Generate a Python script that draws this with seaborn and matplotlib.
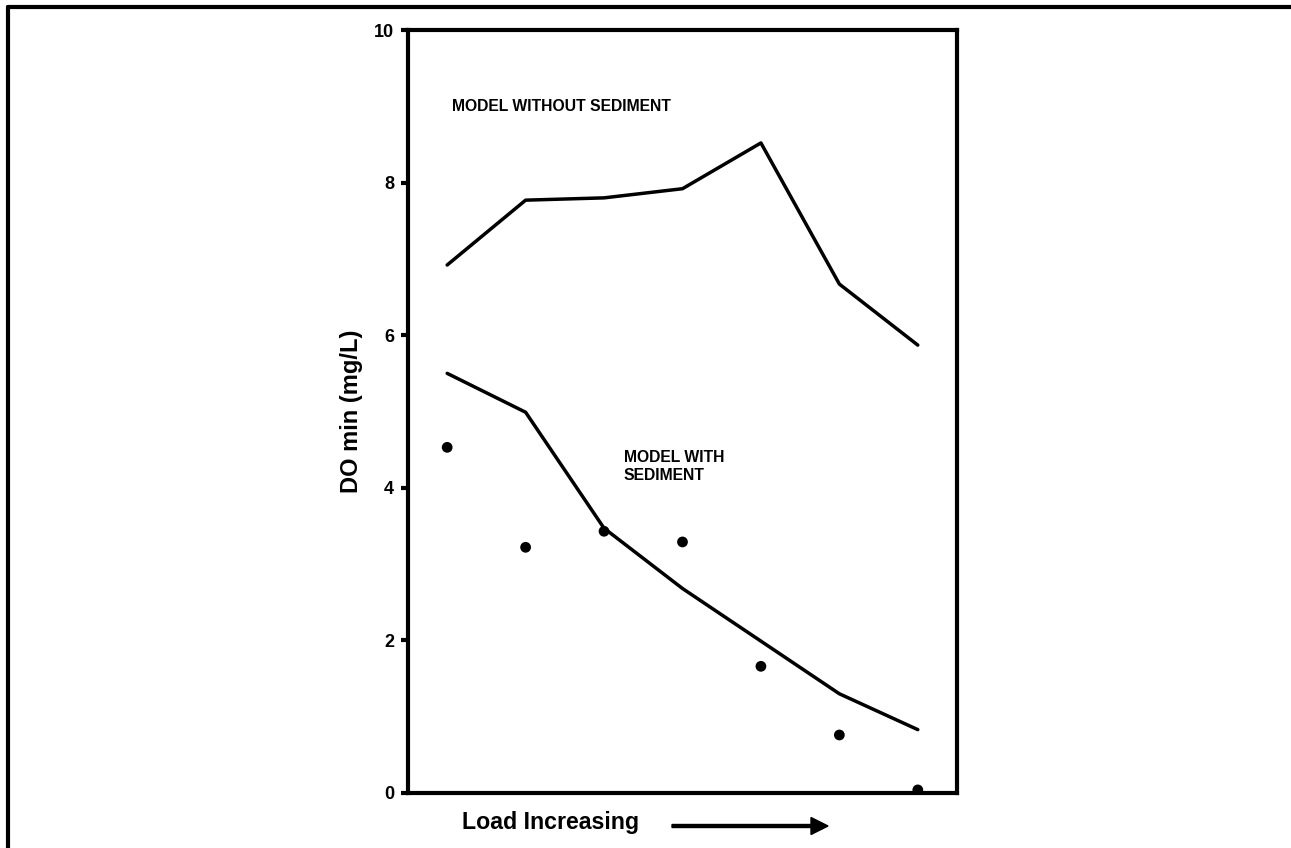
import numpy as np
import seaborn as sns
import matplotlib.pyplot as plt
from matplotlib.lines import Line2D

# load steps (no labels on x axis, only position)
load_step = [0, 1, 2, 3, 4, 5, 6]

# model without sediment
do_no_sed = [6.92, 7.77, 7.80, 7.92, 8.52, 6.67, 5.87]
# model with sediment
do_sed = [5.50, 4.99, 3.47, 2.68, 1.99, 1.30, 0.83]
# observed DO min
do_obs = [4.53, 3.22, 3.43, 3.29, 1.66, 0.76, 0.04]

y_ticks = [0, 2, 4, 6, 8, 10]

sns.set_theme(style="white")
plt.rcParams["font.family"] = ["Liberation Sans", "DejaVu Sans"]
plt.rcParams["font.weight"] = "bold"
plt.rcParams["text.color"] = "black"
plt.rcParams["axes.labelcolor"] = "black"
plt.rcParams["ytick.color"] = "black"

fig = plt.figure(figsize=(12.91, 8.48), dpi=100)
ax = fig.add_axes([0.316, 0.0649, 0.4253, 0.8997])

sns.lineplot(x=load_step, y=do_no_sed, ax=ax, color="black", linewidth=2.5)
sns.lineplot(x=load_step, y=do_sed, ax=ax, color="black", linewidth=2.5)
sns.scatterplot(x=load_step, y=do_obs, ax=ax, color="black", s=60, edgecolor="none", zorder=3)

ax.set_xlim(-0.5, 6.5)
ax.set_ylim(0, 10)
ax.set_xticks([])
ax.set_yticks(y_ticks)
ax.set_yticklabels([str(t) for t in y_ticks], fontsize=13, fontweight="bold", color="black")
ax.tick_params(axis="y", which="major", left=True, direction="out", length=5, width=3, pad=5, colors="black")

for s in ax.spines.values():
    s.set_visible(True)
    s.set_color("black")
    s.set_linewidth(3)

ax.set_ylabel("DO min (mg/L)", fontsize=17, fontweight="bold", color="black")
ax.yaxis.set_label_coords(-0.082, 0.5)
ax.set_xlabel("")

ax.text(0.06, 9.0, "MODEL WITHOUT SEDIMENT", fontsize=11.3, fontweight="bold", va="center", ha="left", color="black")
ax.text(2.25, 4.28, "MODEL WITH\nSEDIMENT", fontsize=11.3, fontweight="bold", va="center", ha="left",
        linespacing=1.25, color="black")

# x axis caption with arrow below the axes
fig.text(462 / 1291, 1 - 823 / 848, "Load Increasing", fontsize=16.7, fontweight="bold", va="center", ha="left", color="black")
fig.patches.append(plt.matplotlib.patches.FancyArrow(
    672 / 1291, 1 - 826 / 848, (828 - 672 - 17) / 1291, 0, width=3 / 848,
    head_width=17 / 848, head_length=17 / 1291, length_includes_head=False,
    color="black", transform=fig.transFigure, figure=fig))

# outer frame (top and left only)
fig.add_artist(Line2D([8 / 1291, 1], [1 - 7 / 848, 1 - 7 / 848], color="black", linewidth=3, transform=fig.transFigure))
fig.add_artist(Line2D([8 / 1291, 8 / 1291], [0, 1 - 7 / 848], color="black", linewidth=3, transform=fig.transFigure))

fig.savefig("out.png", dpi=100)
